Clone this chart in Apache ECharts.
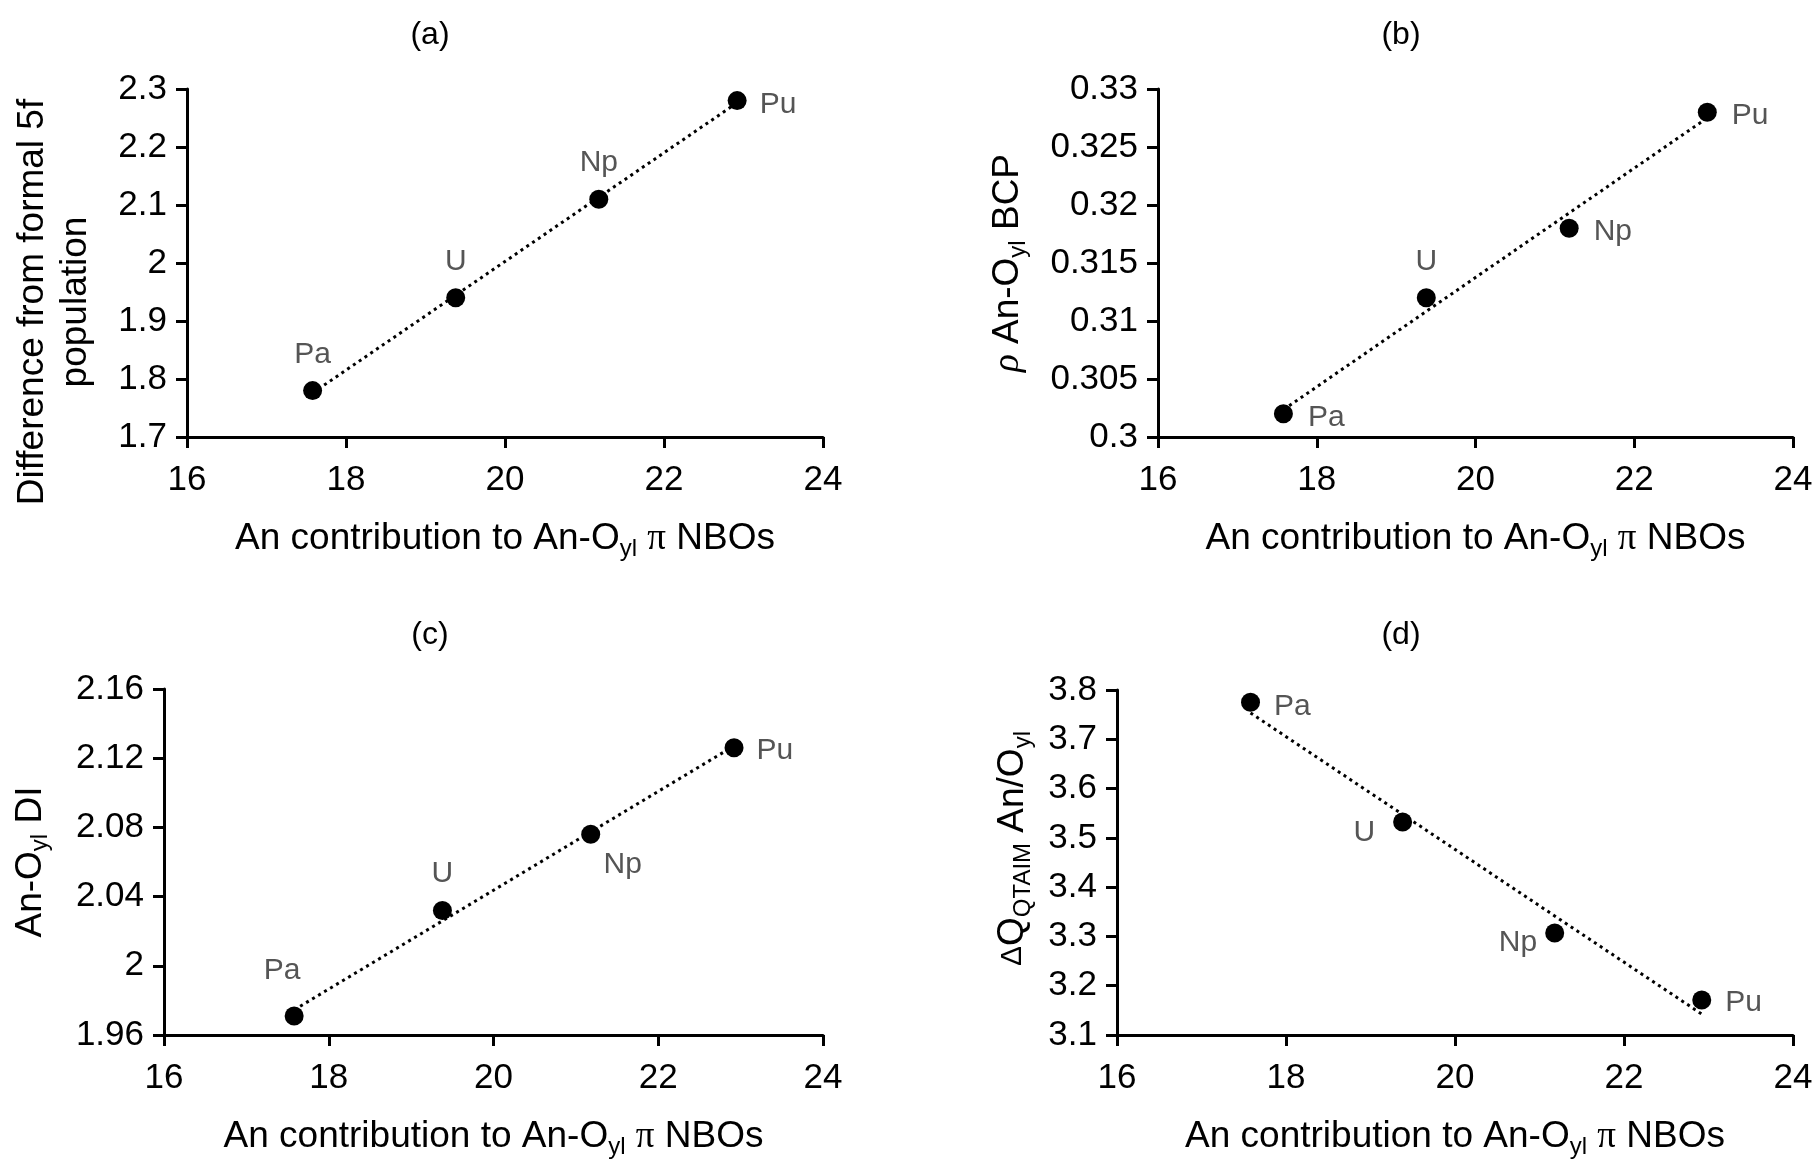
<!doctype html>
<html>
<head>
<meta charset="utf-8">
<title>An contribution to An-Oyl π NBOs</title>
<script src="https://cdn.jsdelivr.net/npm/echarts@6/dist/echarts.min.js"></script>
<style>
    html,body{
        margin: 0;
        width: 100%;
        height: 100%;
        background: #fff;
    }
    #chart{
        width: 1818px;
        height: 1160px;
    }
</style>
</head>
<body>
    <div id="chart"></div>
<script>
    // data
    var elements = ['Pa', 'U', 'Np', 'Pu'];
    var anContribution = [17.58, 19.38, 21.18, 22.92];
    var diff5f = [1.78, 1.94, 2.11, 2.28];          // (a)
    var rhoBCP = [0.302, 0.312, 0.318, 0.328];      // (b)
    var diAnO = [1.971, 2.032, 2.076, 2.126];       // (c)
    var dQtaim = [3.775, 3.532, 3.307, 3.171];      // (d)
    var xTicks = [16, 18, 20, 22, 24];
    var panelTitles = ['(a)', '(b)', '(c)', '(d)'];

    var font = 'Liberation Sans';
    var grey = '#555555';

    // least squares trendline, drawn over the data range
    function trend(xs, ys){
        var n = xs.length, mx = 0, my = 0, sxy = 0, sxx = 0;
        for(var i=0;i<n;i++){ mx += xs[i]; my += ys[i]; }
        mx /= n; my /= n;
        for(var i=0;i<n;i++){
            sxy += (xs[i]-mx)*(ys[i]-my);
            sxx += (xs[i]-mx)*(xs[i]-mx);
        }
        var b = sxy/sxx, a = my - b*mx;
        var x0 = Math.min.apply(null, xs), x1 = Math.max.apply(null, xs);
        return [[x0, a+b*x0], [x1, a+b*x1]];
    }

    var richSub = {
        s: {fontSize: 24, lineHeight: 24, padding: [20,0,0,0], fontFamily: font, color: '#000'},
        p: {fontSize: 37, lineHeight: 44, fontFamily: 'Liberation Serif', color: '#000'},
        g: {fontSize: 37, lineHeight: 44, fontFamily: 'Liberation Serif', fontStyle: 'italic', color: '#000'},
        d: {fontSize: 30, lineHeight: 44, fontFamily: font, color: '#000'}
    };

    var panels = [
        {
            ys: diff5f, min: 1.7, max: 2.3, interval: 0.1,
            grid: {left: 187, top: 89, width: 636, height: 348},
            name: 'Difference from formal 5f\npopulation', nameGap: 90, namePad: [0, 78, 0, 0],
            title: {left: 425, top: 14},
            labels: [
                {position: 'top', distance: 11},
                {position: 'top', distance: 12},
                {position: 'top', distance: 12},
                {position: 'right', distance: 13, offset: [0, 4]}
            ]
        },
        {
            ys: rhoBCP, min: 0.3, max: 0.33, interval: 0.005,
            grid: {left: 1158, top: 89, width: 635, height: 348},
            name: '{g|ρ} An-O{s|yl} BCP', nameGap: 128, namePad: [0, 0, 0, 0],
            title: {left: 1396, top: 14},
            labels: [
                {position: 'right', distance: 15, offset: [0, 4]},
                {position: 'top', distance: 12},
                {position: 'right', distance: 15, offset: [0, 4]},
                {position: 'right', distance: 15, offset: [0, 4]}
            ]
        },
        {
            ys: diAnO, min: 1.96, max: 2.16, interval: 0.04,
            grid: {left: 164, top: 689, width: 659, height: 348},
            name: 'An-O{s|yl} DI', nameGap: 112, namePad: [0, 0, 0, 0],
            title: {left: 425, top: 614},
            labels: [
                {position: 'top', distance: 21, offset: [-12, 0]},
                {position: 'top', distance: 12},
                {position: 'bottom', distance: 6, offset: [32, 0]},
                {position: 'right', distance: 13, offset: [0, 3]}
            ]
        },
        {
            ys: dQtaim, min: 3.1, max: 3.8, interval: 0.1,
            grid: {left: 1117, top: 690, width: 676, height: 347},
            name: '{d|Δ}Q{s|QTAIM} An/O{s|yl}', nameGap: 82, namePad: [0, 0, 0, 28],
            title: {left: 1396, top: 614},
            labels: [
                {position: 'right', distance: 14, offset: [0, 4]},
                {position: 'left', distance: 18, offset: [0, 11]},
                {position: 'left', distance: 8, offset: [0, 10]},
                {position: 'right', distance: 14, offset: [0, 3]}
            ]
        }
    ];

    var grid = [], xAxis = [], yAxis = [], series = [], title = [];

    panels.forEach(function(p, k){
        grid.push(p.grid);
        title.push({
            text: panelTitles[k], left: p.title.left, top: p.title.top, textAlign: 'center',
            textStyle: {fontSize: 32, fontWeight: 'normal', color: '#000', fontFamily: font}
        });
        xAxis.push({
            type: 'value', gridIndex: k,
            min: xTicks[0], max: xTicks[xTicks.length-1], interval: xTicks[1]-xTicks[0],
            name: 'An contribution to An-O{s|yl} {p|π} NBOs',
            nameLocation: 'middle', nameGap: 80,
            nameTextStyle: {fontSize: 37, lineHeight: 44, color: '#000', fontFamily: font, rich: richSub},
            axisLine: {lineStyle: {color: '#000', width: 3}},
            axisTick: {length: 11, lineStyle: {color: '#000', width: 3}},
            axisLabel: {fontSize: 35, color: '#000', fontFamily: font, margin: 26},
            splitLine: {show: false}
        });
        yAxis.push({
            type: 'value', gridIndex: k,
            min: p.min, max: p.max, interval: p.interval,
            name: p.name, nameLocation: 'middle', nameGap: p.nameGap,
            nameTextStyle: {fontSize: 37, lineHeight: 43, color: '#000', fontFamily: font,
                padding: p.namePad, rich: richSub},
            axisLine: {show: true, onZero: false, lineStyle: {color: '#000', width: 3}},
            axisTick: {show: true, length: 11, lineStyle: {color: '#000', width: 3}},
            axisLabel: {fontSize: 35, color: '#000', fontFamily: font, margin: 20,
                formatter: function(v){ return String(+v.toFixed(4)); }},
            splitLine: {show: false}
        });
        series.push({
            type: 'line', xAxisIndex: k, yAxisIndex: k,
            data: trend(anContribution, p.ys),
            showSymbol: false, silent: true, z: 1,
            lineStyle: {color: '#000', width: 3, type: [3, 4]}
        });
        series.push({
            type: 'scatter', xAxisIndex: k, yAxisIndex: k,
            symbolSize: 19, z: 3,
            itemStyle: {color: '#000', opacity: 1},
            label: {show: true, color: grey, fontSize: 30, fontFamily: font,
                formatter: function(d){ return d.name; }},
            data: elements.map(function(el, i){
                return {name: el, value: [anContribution[i], p.ys[i]], label: p.labels[i]};
            })
        });
    });

    var chart = echarts.init(document.getElementById('chart'));
    chart.setOption({
        animation: false,
        backgroundColor: '#fff',
        title: title,
        grid: grid,
        xAxis: xAxis,
        yAxis: yAxis,
        series: series
    });
</script>
</body>
</html>
